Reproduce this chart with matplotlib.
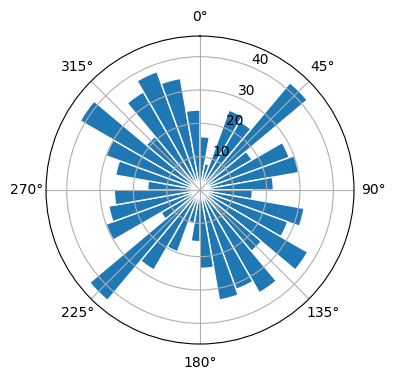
import numpy as np
import matplotlib
matplotlib.use("Agg")
import matplotlib.pyplot as plt

# bar centres (degrees, clockwise from north) and bar heights
angles_deg = [5, 15, 25, 35, 45, 55, 65, 75, 85, 95, 105, 115,
              125, 135, 145, 155, 165, 175, 185, 195, 205, 215, 225, 235,
              245, 255, 265, 275, 285, 295, 305, 315, 325, 335, 345, 355]
heights = [16, 8, 25.5, 23.8, 42, 18, 28.5, 30, 22, 15.7, 31.7, 28,
           37.3, 24, 35.6, 31.7, 33.5, 23.5, 15.5, 10, 19.7, 27.7, 43.2, 13.5,
           30, 27.8, 25.7, 15.7, 25.7, 30, 41.5, 21, 34, 37.8, 34, 24]
r_max = 46.2

fig = plt.figure(figsize=(3.96, 3.80), dpi=100)
ax = fig.add_axes([0.1162, 0.0947, 0.7778, 0.8105], projection="polar")
ax.set_theta_zero_location("N")
ax.set_theta_direction(-1)

theta = np.deg2rad(angles_deg)
width = 2 * np.pi / len(angles_deg)
ax.bar(theta, heights, width=width, color="#1f77b4", edgecolor="white", linewidth=1)
ax.set_ylim(0, r_max)
ax.set_yticks([10, 20, 30, 40])

fig.savefig("out.png", dpi=100)
